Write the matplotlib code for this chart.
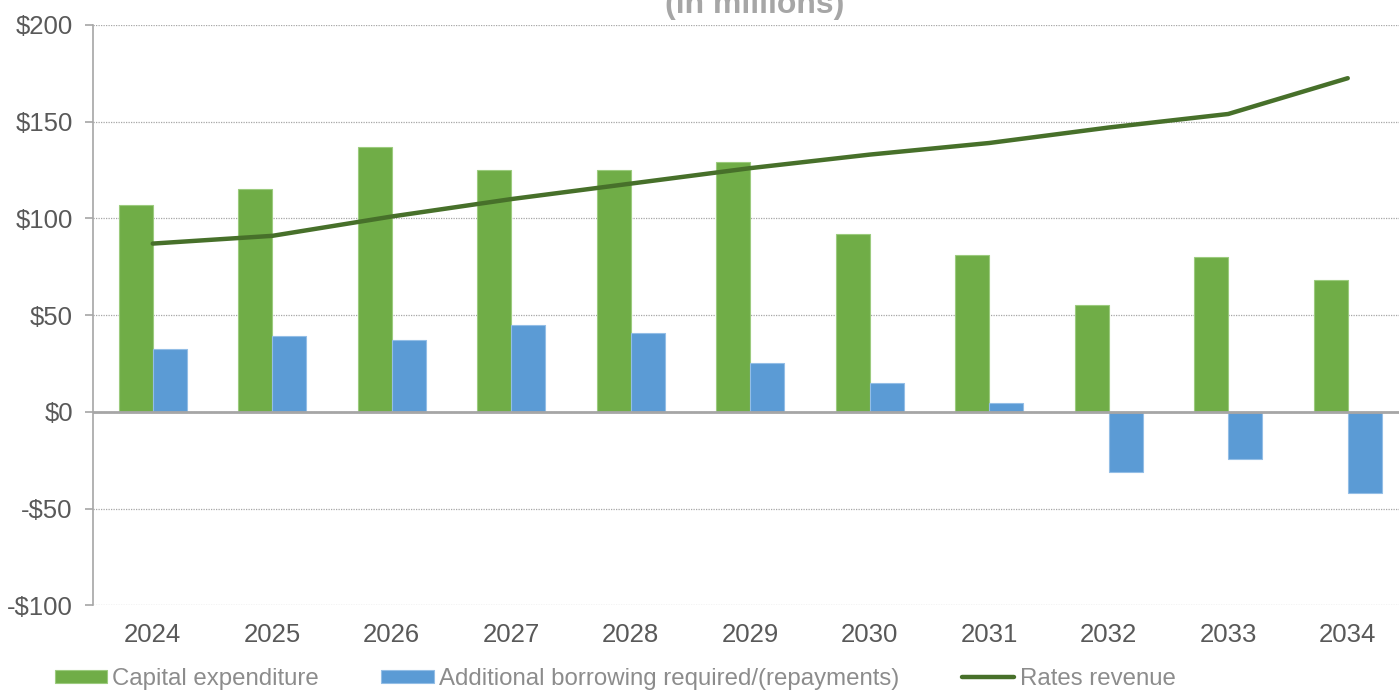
import matplotlib
matplotlib.use("Agg")
import matplotlib.pyplot as plt
from matplotlib.ticker import FuncFormatter, MultipleLocator
import numpy as np

plt.rcParams['font.family'] = ['Liberation Sans', 'DejaVu Sans']

years = ['2024', '2025', '2026', '2027', '2028', '2029', '2030', '2031', '2032', '2033', '2034']
capital_expenditure = [107, 115, 137, 125, 125, 129, 92, 81, 55, 80, 68]
additional_borrowing = [32.5, 39, 37, 45, 41, 25.5, 15, 4.7, -31, -24.5, -42]
rates_revenue = [87, 91, 101, 110, 118, 126, 133, 139, 147, 154, 172.5]

green = '#70AD47'
blue = '#5B9BD5'
dark_green = '#47702A'
tick_grey = '#595959'
legend_grey = '#8C8C8C'

fig = plt.figure(figsize=(13.99, 6.90), dpi=100)
ax = fig.add_axes([93 / 1399, 1 - 605.3 / 690, (1407.5 - 93) / 1399, (605.3 - 25) / 690])

x = np.arange(len(years))
w = 0.285
capex_bars = ax.bar(x - w / 2, capital_expenditure, width=w, color=green, edgecolor='#9CCB7E',
                    linewidth=0.8, label='Capital expenditure', zorder=2)
borrow_bars = ax.bar(x + w / 2, additional_borrowing, width=w, color=blue, edgecolor='#93BEE6',
                     linewidth=0.8, label='Additional borrowing required/(repayments)', zorder=2)
revenue_line, = ax.plot(x, rates_revenue, color=dark_green, linewidth=3.2, solid_capstyle='round',
                        label='Rates revenue', zorder=3)

ax.set_xlim(-0.5, len(years) - 0.5)
ax.set_ylim(-100, 200)
ax.yaxis.set_major_locator(MultipleLocator(50))
ax.yaxis.set_major_formatter(FuncFormatter(lambda v, p: f"-${abs(v):.0f}" if v < 0 else f"${v:.0f}"))
ax.set_xticks(x)
ax.set_xticklabels(years)

ax.grid(axis='y', linestyle=(0, (1, 1)), color='#A6A6A6', linewidth=0.9, zorder=0)
ax.axhline(0, color='#A6A6A6', linewidth=2, zorder=2.5)

for s in ['top', 'right', 'bottom']:
    ax.spines[s].set_visible(False)
ax.spines['left'].set_color('#A6A6A6')
ax.spines['left'].set_linewidth(1.2)

ax.tick_params(axis='y', length=5.5, width=1.2, color='#A6A6A6', pad=9,
               labelsize=18.5, labelcolor=tick_grey)
ax.tick_params(axis='x', length=0, pad=13, labelsize=18.5, labelcolor=tick_grey)

fig.text(755 / 1399, 1 - 13 / 690, '(in millions)', ha='center', va='baseline',
         fontsize=23, fontweight='bold', color='#A6A6A6')

handles = [capex_bars, borrow_bars, revenue_line]
labels = [h.get_label() for h in handles]
leg = fig.legend(handles, labels, loc='center', bbox_to_anchor=(615 / 1399, 1 - 679 / 690),
                 ncol=3, frameon=False, fontsize=17.3, labelcolor=legend_grey,
                 handlelength=2.17, handleheight=0.5, handletextpad=0.23,
                 columnspacing=2.6, borderpad=0)

fig.savefig('out.png', dpi=100)
